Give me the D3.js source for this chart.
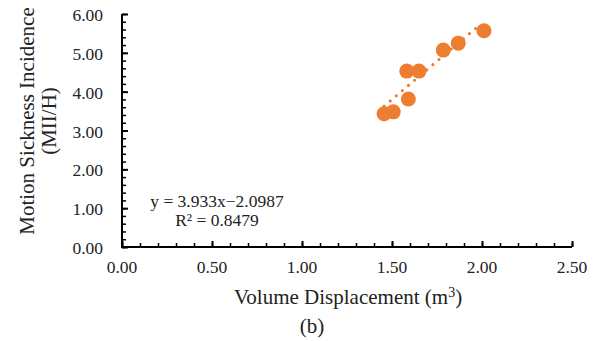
<!DOCTYPE html>
<html>
<head>
<meta charset="utf-8">
<script src="https://cdn.jsdelivr.net/npm/d3@7.9.0/dist/d3.min.js"></script>
<style>
  body { margin: 0; background: #fff; }
  svg text { font-family: "Liberation Serif", "Times New Roman", serif; fill: #222; }
</style>
</head>
<body>
<svg id="chart" width="602" height="341"></svg>
<script>
// data
const volume = [1.456, 1.507, 1.591, 1.582, 1.650, 1.785, 1.868, 2.011];
const incidence = [3.43, 3.48, 3.81, 4.53, 4.53, 5.07, 5.25, 5.57];
const xTicks = [0, 0.5, 1.0, 1.5, 2.0, 2.5];
const yTicks = [0, 1, 2, 3, 4, 5, 6];
const slope = 3.933;
const intercept = -2.0987;
const trendRange = [1.456, 1.975];
const eqLines = ["y = 3.933x\u22122.0987", "R\u00b2 = 0.8479"];

const svg = d3.select("#chart");
const x = d3.scaleLinear().domain([0, 2.5]).range([122, 572]);
const y = d3.scaleLinear().domain([0, 6]).range([247, 14]);

// y axis (ticks point inward)
svg.append("g")
  .attr("transform", "translate(122,0)")
  .call(d3.axisRight(y).tickValues(d3.range(0, 6.001, 0.2)).tickSize(4).tickFormat(""))
  .call(g => g.select(".domain").remove())
  .call(g => g.selectAll("line").attr("stroke", "#000").attr("stroke-width", 1.5));
svg.append("g")
  .attr("transform", "translate(122,0)")
  .call(d3.axisRight(y).tickValues(yTicks).tickSize(6).tickFormat(""))
  .call(g => g.select(".domain").remove())
  .call(g => g.selectAll("line").attr("stroke", "#000").attr("stroke-width", 2));

// x axis
svg.append("g")
  .attr("transform", "translate(0,247)")
  .call(d3.axisTop(x).tickValues(d3.range(0, 2.501, 0.1)).tickSize(4).tickFormat(""))
  .call(g => g.select(".domain").remove())
  .call(g => g.selectAll("line").attr("stroke", "#000").attr("stroke-width", 1.5));
svg.append("g")
  .attr("transform", "translate(0,247)")
  .call(d3.axisTop(x).tickValues(xTicks).tickSize(6).tickFormat(""))
  .call(g => g.select(".domain").remove())
  .call(g => g.selectAll("line").attr("stroke", "#000").attr("stroke-width", 2));

// axis lines
svg.append("path")
  .attr("d", `M${x(0)},${y(6)}V${y(0)}H${x(2.5)}`)
  .attr("fill", "none").attr("stroke", "#000").attr("stroke-width", 2);

// tick labels
svg.selectAll(".ylab").data(yTicks).join("text")
  .attr("x", 103).attr("y", d => y(d) + 7)
  .attr("text-anchor", "end").attr("font-size", 17.5)
  .text(d => d.toFixed(2));
svg.selectAll(".xlab").data(xTicks).join("text")
  .attr("x", d => x(d)).attr("y", 273)
  .attr("text-anchor", "middle").attr("font-size", 17.5)
  .text(d => d.toFixed(2));

// axis titles
svg.append("text")
  .attr("x", 348).attr("y", 304)
  .attr("text-anchor", "middle").attr("font-size", 21)
  .html("Volume Displacement (m<tspan dy='-7' font-size='14'>3</tspan><tspan dy='7'>)</tspan>");
svg.append("text")
  .attr("transform", "translate(34,121) rotate(-90)")
  .attr("text-anchor", "middle").attr("font-size", 21)
  .text("Motion Sickness Incidence");
svg.append("text")
  .attr("transform", "translate(56,121) rotate(-90)")
  .attr("text-anchor", "middle").attr("font-size", 21)
  .text("(MII/H)");
svg.append("text")
  .attr("x", 312).attr("y", 333)
  .attr("text-anchor", "middle").attr("font-size", 21)
  .text("(b)");

// trendline
svg.append("line")
  .attr("x1", x(trendRange[0])).attr("y1", y(slope * trendRange[0] + intercept))
  .attr("x2", x(trendRange[1])).attr("y2", y(slope * trendRange[1] + intercept))
  .attr("stroke", "#ED7D31").attr("stroke-width", 3.2)
  .attr("stroke-linecap", "round").attr("stroke-dasharray", "0 8");

// points
svg.selectAll(".pt").data(volume).join("circle")
  .attr("cx", d => x(d)).attr("cy", (d, i) => y(incidence[i]))
  .attr("r", 7.5).attr("fill", "#ED7D31");

// equation
svg.selectAll(".eq").data(eqLines).join("text")
  .attr("x", 217).attr("y", (d, i) => 207 + i * 19)
  .attr("text-anchor", "middle").attr("font-size", 17.5)
  .text(d => d);
</script>
</body>
</html>
